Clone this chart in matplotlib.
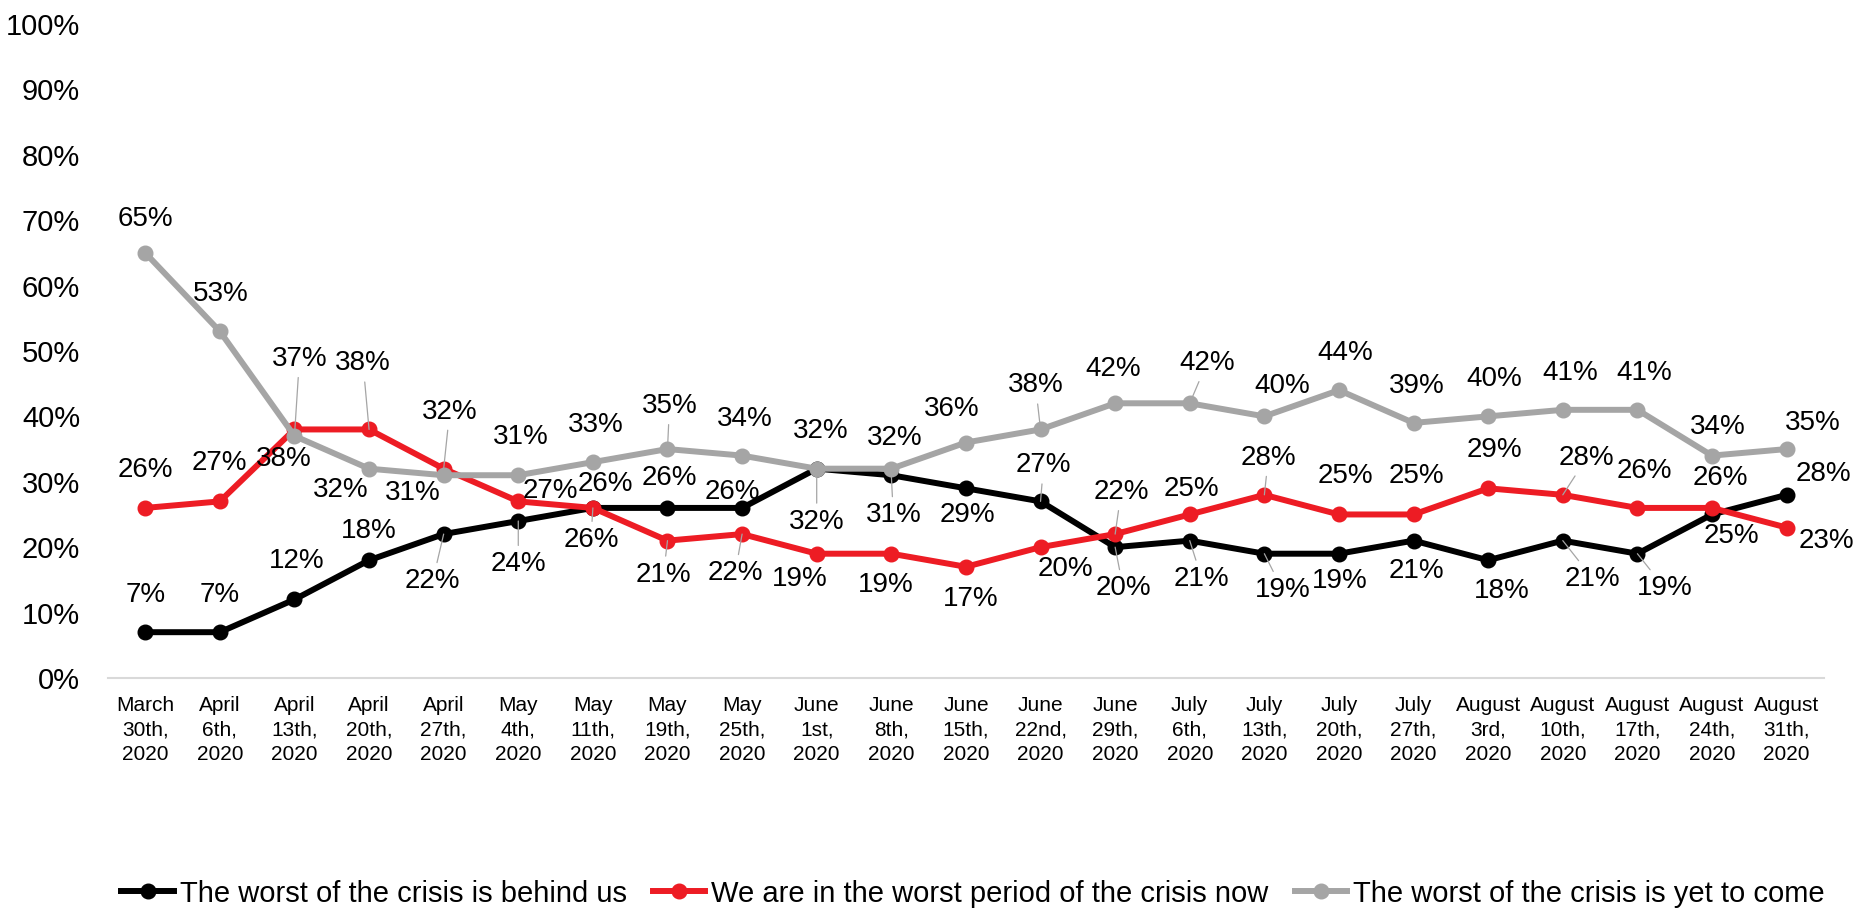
import matplotlib
matplotlib.use("Agg")
import matplotlib.pyplot as plt
from matplotlib.ticker import FuncFormatter

plt.rcParams['font.family'] = ['Liberation Sans Narrow', 'Liberation Sans', 'DejaVu Sans']

dates = ["March\n30th,\n2020", "April\n6th,\n2020", "April\n13th,\n2020", "April\n20th,\n2020",
         "April\n27th,\n2020", "May\n4th,\n2020", "May\n11th,\n2020", "May\n19th,\n2020",
         "May\n25th,\n2020", "June\n1st,\n2020", "June\n8th,\n2020", "June\n15th,\n2020",
         "June\n22nd,\n2020", "June\n29th,\n2020", "July\n6th,\n2020", "July\n13th,\n2020",
         "July\n20th,\n2020", "July\n27th,\n2020", "August\n3rd,\n2020", "August\n10th,\n2020",
         "August\n17th,\n2020", "August\n24th,\n2020", "August\n31th,\n2020"]

behind_us = [7, 7, 12, 18, 22, 24, 26, 26, 26, 32, 31, 29, 27, 20, 21, 19, 19, 21, 18, 21, 19, 25, 28]
worst_now = [26, 27, 38, 38, 32, 27, 26, 21, 22, 19, 19, 17, 20, 22, 25, 28, 25, 25, 29, 28, 26, 26, 23]
yet_to_come = [65, 53, 37, 32, 31, 31, 33, 35, 34, 32, 32, 36, 38, 42, 42, 40, 44, 39, 40, 41, 41, 34, 35]

series_names = ["The worst of the crisis is behind us",
                "We are in the worst period of the crisis now",
                "The worst of the crisis is yet to come"]
colors = ["#000000", "#ED1C24", "#A5A5A5"]

# label offsets in pixels (dx right, dy down) and which labels get a leader line
offsets_black = [(0, -37), (0, -37), (2, -38), (0, -29), (-11, 47), (0, 43), (12, -24), (2, -30),
                 (-10, -16), (0, 53), (2, 40), (2, 27), (3, -36), (8, 41), (12, 38), (18, 36),
                 (1, 27), (3, 30), (14, 31), (30, 38), (27, 34), (19, 22), (37, -21)]
offsets_red = [(0, -38), (0, -38), (-11, 30), (-6, -66), (6, -57), (32, -10), (-2, 32), (-4, 34),
               (-7, 39), (-17, 25), (-6, 31), (5, 32), (25, 22), (6, -42), (2, -25), (4, -37),
               (6, -38), (3, -38), (6, -38), (24, -37), (7, -37), (8, -30), (40, 13)]
offsets_gray = [(0, -34), (1, -37), (5, -77), (-28, 21), (-31, 18), (2, -38), (3, -37), (2, -43),
                (3, -37), (4, -38), (3, -31), (-14, -34), (-5, -44), (-2, -34), (17, -40), (18, -30),
                (6, -37), (3, -37), (6, -37), (7, -37), (7, -37), (6, -29), (26, -26)]
leaders_black = {4, 5, 9, 10, 12, 13, 14, 15, 19, 20}
leaders_red = {3, 4, 6, 7, 8, 13, 15, 19}
leaders_gray = {2, 7, 12, 14}

fig = plt.figure(figsize=(18.64, 9.11), dpi=100)
ax = fig.add_axes([0.0579, 0.2558, 0.9206, 0.7179])

x = list(range(len(dates)))
all_series = [(behind_us, offsets_black, leaders_black),
              (worst_now, offsets_red, leaders_red),
              (yet_to_come, offsets_gray, leaders_gray)]

for (vals, offs, leads), name, c in zip(all_series, series_names, colors):
    ax.plot(x, vals, color=c, lw=4.3, marker='o', markersize=10.5, label=name,
            solid_joinstyle='miter')

for (vals, offs, leads), c in zip(all_series, colors):
    for i, v in enumerate(vals):
        dx, dy = offs[i]
        kw = {}
        if i in leads:
            kw['arrowprops'] = dict(arrowstyle='-', color='#A5A5A5', lw=0.9,
                                    shrinkA=2, shrinkB=0)
        ax.annotate(f"{v}%", (i, v), xytext=(dx, -dy), textcoords='offset pixels',
                    ha='center', va='center', fontsize=20, color='black', zorder=5, **kw)

ax.set_xlim(-0.5, len(dates) - 0.5)
ax.set_ylim(0, 100)
ax.set_yticks(range(0, 101, 10))
ax.yaxis.set_major_formatter(FuncFormatter(lambda v, p: f"{int(v)}%"))
ax.set_xticks(x)
ax.set_xticklabels(dates, fontsize=15, linespacing=1.35)
ax.tick_params(axis='y', length=0, pad=20, labelsize=21)
ax.tick_params(axis='x', length=0, pad=13)
for s in ['top', 'right', 'left']:
    ax.spines[s].set_visible(False)
ax.spines['bottom'].set_color('#D9D9D9')
ax.spines['bottom'].set_linewidth(1.5)

fig.legend(loc='center', bbox_to_anchor=(0.522, 0.019), ncol=3, frameon=False,
           fontsize=21, handlelength=1.8, handletextpad=0.2, columnspacing=0.9,
           borderpad=0)

fig.savefig("out.png", dpi=100)
